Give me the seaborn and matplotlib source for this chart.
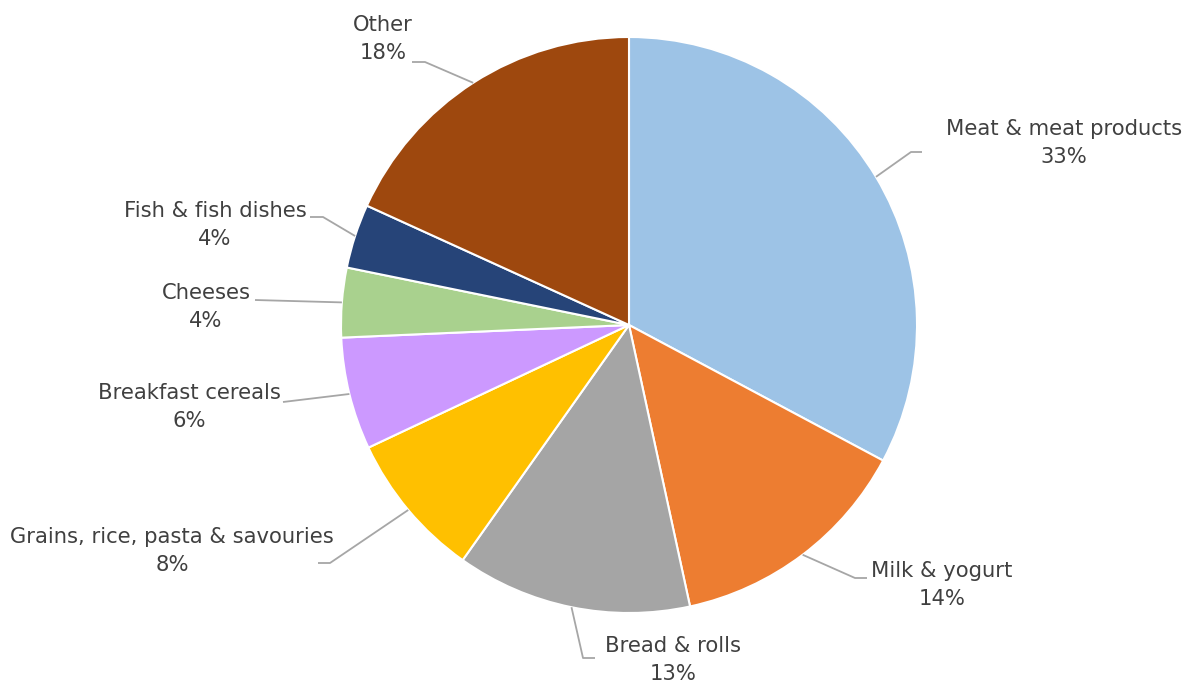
import numpy as np
import matplotlib
matplotlib.use("Agg")
import matplotlib.pyplot as plt
import seaborn as sns

# Share of intake by food group (percent)
categories = [
    "Meat & meat products",
    "Milk & yogurt",
    "Bread & rolls",
    "Grains, rice, pasta & savouries",
    "Breakfast cereals",
    "Cheeses",
    "Fish & fish dishes",
    "Other",
]
values = [32.8, 13.8, 13.2, 8.2, 6.3, 3.9, 3.6, 18.2]
colors = ["#9DC3E6", "#ED7D31", "#A5A5A5", "#FFC000",
          "#CC99FF", "#A9D18E", "#264478", "#9E480E"]

# Label placement in pixel space (x, y from top-left): text centre, elbow, line end
label_pos = [(1064, 143), (942, 585), (673, 660), (172, 551),
             (189, 407), (206, 307), (215, 225), (383, 39)]
elbows = [(911, 152), (855, 578), (583, 658), (330, 563),
          (283, 402), (255, 300), (323, 217), (425, 62)]
ends = [(922, 152), (867, 578), (595, 658), (318, 563),
        (283, 402), (255, 300), (310, 217), (412, 62)]

sns.set_theme(style="white")
plt.rcParams["font.family"] = ["DejaVu Sans"]

W, H = 1186, 686
fig = plt.figure(figsize=(W / 100, H / 100), dpi=100)
ax = fig.add_axes([0, 0, 1, 1])

cx, cy, r = 629, H - 325, 288
palette = sns.color_palette(colors)
wedges, _ = ax.pie(values, colors=palette, startangle=90, counterclock=False,
                   center=(cx, cy), radius=r, frame=True,
                   wedgeprops=dict(edgecolor="white", linewidth=1.5))
ax.set_xlim(0, W)
ax.set_ylim(0, H)
ax.set_axis_off()

line_color = "#A6A6A6"
text_color = "#404040"
for w, name, v, (tx, ty), (ex, ey), (lx, ly) in zip(
        wedges, categories, values, label_pos, elbows, ends):
    mid = np.deg2rad((w.theta1 + w.theta2) / 2)
    sx, sy = cx + r * np.cos(mid), cy + r * np.sin(mid)
    ax.plot([sx, ex, lx], [sy, H - ey, H - ly], color=line_color,
            linewidth=1.3, solid_capstyle="butt", zorder=3)
    ax.text(tx, H - ty, f"{name}\n{round(v):.0f}%", ha="center", va="center",
            multialignment="center", fontsize=15.2, color=text_color,
            linespacing=1.55)

fig.savefig("out.png", dpi=100)
